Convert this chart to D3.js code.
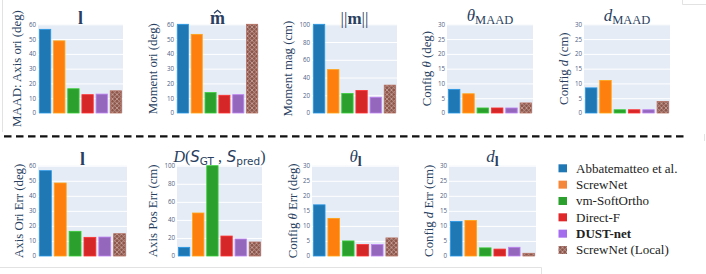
<!DOCTYPE html>
<html><head><meta charset="utf-8">
<script src="https://cdn.jsdelivr.net/npm/d3@7"></script>
<style>body{margin:0;background:#fff}svg{display:block}</style>
</head><body><svg id="c" width="706" height="274"></svg>
<script>
// ---------- data ----------
const methods = ["Abbatematteo et al.", "ScrewNet", "vm-SoftOrtho", "Direct-F", "DUST-net", "ScrewNet (Local)"];
const barColors = ["#1f77b4", "#ff7f0e", "#2ca02c", "#d62728", "#9467bd", "#8c564b"];
const legendColors = ["#1f77b4", "#f5873a", "#2ca02c", "#e0282b", "#a36ded", "#8c564b"];

const axisOriMAAD    = [56.6, 48.8, 16.4, 12.4, 12.8, 15.0];
const momentOriMAAD  = [60.0, 53.2, 13.8, 12.0, 12.4, 60.0];
const momentMagMAAD  = [100, 48.9, 22.0, 25.4, 17.8, 31.4];
const configThMAAD   = [8.0, 6.5, 1.7, 1.7, 1.7, 3.4];
const configDMAAD    = [8.5, 11.0, 1.1, 1.1, 1.1, 3.9];

const axisOriErr     = [56.7, 48.5, 16.4, 12.4, 12.6, 14.8];
const axisPosErr     = [9.6, 47.6, 100, 22.1, 18.8, 15.5];
const configThErr    = [17.0, 12.5, 5.0, 3.8, 3.8, 6.0];
const configDErr     = [11.5, 11.8, 2.7, 2.3, 2.9, 0.9];

const ticks60  = [0, 10, 20, 30, 40, 50, 60];
const ticks100 = [0, 20, 40, 60, 80, 100];
const ticks30  = [0, 5, 10, 15, 20, 25, 30];

// ---------- drawing ----------
const svg = d3.select("#c");
const defs = svg.append("defs");
const pat = defs.append("pattern").attr("id", "hatch")
  .attr("patternUnits", "userSpaceOnUse").attr("width", 4.5).attr("height", 4.5);
pat.append("rect").attr("width", 4.5).attr("height", 4.5).attr("fill", "#8c564b");
pat.append("path").attr("d", "M0,0L4.5,4.5M4.5,0L0,4.5")
  .attr("stroke", "#d2b2aa").attr("stroke-width", 0.7);

const titleColor = "#2a3f5f";
const serif = "'Liberation Serif', 'Times New Roman', serif";

// faint frame artifacts
const frame = svg.append("g").attr("stroke", "#e2e2e2").attr("stroke-width", 1).attr("fill", "none");
frame.append("path").attr("d", "M2.5,0V132");
frame.append("path").attr("d", "M0,267.5H541.5V274");
frame.append("path").attr("d", "M682.5,0V4.5H706");
frame.append("path").attr("d", "M704.5,134V141");

const panels = [
  {vals: axisOriMAAD,   ticks: ticks60,  x0: 38,  x1: 123, y0: 24.3, y1: 113, lx: 21,  title: "l",     ylabel: [["MAAD: Axis ori (deg)", "normal"]]},
  {vals: momentOriMAAD, ticks: ticks60,  x0: 176, x1: 259, y0: 24.3, y1: 113, lx: 157, title: "mhat",  ylabel: [["Moment ori (deg)", "normal"]]},
  {vals: momentMagMAAD, ticks: ticks100, x0: 312, x1: 397, y0: 24.3, y1: 113, lx: 292, title: "normm", ylabel: [["Moment mag (cm)", "normal"]]},
  {vals: configThMAAD,  ticks: ticks30,  x0: 447, x1: 533, y0: 24.3, y1: 113, lx: 431, title: ["θ", "MAAD"], ylabel: [["Config ", "normal"], ["θ", "italic"], [" (deg)", "normal"]]},
  {vals: configDMAAD,   ticks: ticks30,  x0: 584, x1: 670, y0: 24.3, y1: 113, lx: 568, title: ["d", "MAAD"], ylabel: [["Config ", "normal"], ["d", "italic"], [" (cm)", "normal"]]},
  {vals: axisOriErr,    ticks: ticks60,  x0: 38,  x1: 127, y0: 165.7, y1: 256, lx: 23,  title: "l",    ylabel: [["Axis Ori Err (deg)", "normal"]]},
  {vals: axisPosErr,    ticks: ticks100, x0: 177, x1: 262, y0: 165.7, y1: 256, lx: 157, title: "D",    ylabel: [["Axis Pos Err (cm)", "normal"]]},
  {vals: configThErr,   ticks: ticks30,  x0: 312, x1: 399, y0: 165.7, y1: 256, lx: 297, title: ["θ", "l"], ylabel: [["Config ", "normal"], ["θ", "italic"], [" Err (deg)", "normal"]]},
  {vals: configDErr,    ticks: ticks30,  x0: 449, x1: 536, y0: 165.7, y1: 256, lx: 433, title: ["d", "l"], ylabel: [["Config ", "normal"], ["d", "italic"], [" Err (cm)", "normal"]]}
];

panels.forEach(p => {
  const g = svg.append("g");
  const x = d3.scaleBand().domain(methods).range([p.x0, p.x1]).paddingInner(0.2).paddingOuter(0.1);
  const y = d3.scaleLinear().domain([0, p.ticks[p.ticks.length - 1]]).range([p.y1, p.y0]);

  g.append("rect").attr("x", p.x0).attr("y", p.y0).attr("width", p.x1 - p.x0).attr("height", p.y1 - p.y0)
    .attr("fill", "#e5ecf6");

  const ax = d3.axisLeft(y).tickValues(p.ticks).tickSize(-(p.x1 - p.x0)).tickPadding(2).tickFormat(d3.format("d"));
  const ag = g.append("g").attr("transform", `translate(${p.x0},0)`).call(ax);
  ag.select(".domain").remove();
  ag.selectAll(".tick line").attr("stroke", "#ffffff").attr("stroke-width", 1);
  ag.selectAll(".tick text").attr("fill", "#50627f").attr("font-size", 6.2)
    .attr("font-family", "'Open Sans', 'DejaVu Sans', sans-serif");

  g.selectAll("rect.bar").data(p.vals).enter().append("rect").attr("class", "bar")
    .attr("x", (d, i) => x(methods[i]))
    .attr("y", d => y(d))
    .attr("width", x.bandwidth())
    .attr("height", d => y(0) - y(d))
    .attr("fill", (d, i) => i === 5 ? "url(#hatch)" : barColors[i])
    .attr("stroke", (d, i) => d3.color(barColors[i]).brighter(0.7))
    .attr("stroke-width", 0.8);

  // y label
  const cy = (p.y0 + p.y1) / 2;
  const yl = g.append("text").attr("transform", `translate(${p.lx},${cy}) rotate(-90)`)
    .attr("text-anchor", "middle").attr("font-family", serif).attr("font-size", 12.8)
    .attr("fill", titleColor);
  p.ylabel.forEach(([t, st]) => yl.append("tspan").attr("font-style", st).text(t));

  // title
  const cx = (p.x0 + p.x1) / 2;
  const ty = p.y0 - 0.5;
  const t = g.append("text").attr("x", cx).attr("y", ty).attr("text-anchor", "middle")
    .attr("font-family", serif).attr("fill", titleColor);
  if (p.title === "l") {
    t.attr("font-size", 18).attr("font-weight", "bold").text("l");
  } else if (p.title === "mhat") {
    t.attr("font-size", 18).attr("font-weight", "bold").text("m");
    g.append("path").attr("d", `M${cx - 3.5},${ty - 10.5}L${cx},${ty - 13.5}L${cx + 3.5},${ty - 10.5}`)
      .attr("fill", "none").attr("stroke", titleColor).attr("stroke-width", 1.2);
  } else if (p.title === "normm") {
    t.attr("font-size", 17);
    t.append("tspan").text("||");
    t.append("tspan").attr("font-weight", "bold").text("m");
    t.append("tspan").text("||");
  } else if (p.title === "D") {
    t.attr("font-size", 16).attr("y", ty - 3);
    t.append("tspan").attr("font-style", "italic").text("D");
    t.append("tspan").text("(");
    t.append("tspan").attr("font-family", "'DejaVu Sans', sans-serif").attr("font-style", "italic").attr("font-size", 15).text("S");
    t.append("tspan").attr("font-family", "'DejaVu Sans', sans-serif").attr("font-size", 10.5).attr("dy", 3).text("GT");
    t.append("tspan").attr("dy", -3).text(" ,");
    t.append("tspan").attr("font-family", "'DejaVu Sans', sans-serif").attr("font-style", "italic").attr("font-size", 15).text(" S");
    t.append("tspan").attr("font-family", "'DejaVu Sans', sans-serif").attr("font-size", 10.5).attr("dy", 3).text("pred");
    t.append("tspan").attr("dy", -3).text(")");
  } else {
    t.attr("font-size", 17).attr("y", ty - 3);
    t.append("tspan").attr("font-style", "italic").text(p.title[0]);
    t.append("tspan").attr("font-size", p.title[1] === "l" ? 14 : 12.5)
      .attr("font-weight", p.title[1] === "l" ? "bold" : "normal").attr("dy", 3.5).text(p.title[1]);
  }
});

// dashed separator
svg.append("line").attr("x1", 4).attr("x2", 688).attr("y1", 136.3).attr("y2", 136.3)
  .attr("stroke", "#111").attr("stroke-width", 2.2).attr("stroke-dasharray", "7.5,4.5");

// legend
const lg = svg.append("g");
const rowY = d3.scalePoint().domain(methods).range([168.3, 250]);
methods.forEach((m, i) => {
  lg.append("rect").attr("x", 558.5).attr("y", rowY(m) - 4).attr("width", 8.5).attr("height", 8)
    .attr("fill", i === 5 ? "url(#hatch)" : legendColors[i]);
  lg.append("text").attr("x", 576).attr("y", rowY(m) + 4.2)
    .attr("font-family", serif).attr("font-size", 13).attr("fill", "#222")
    .attr("font-weight", m === "DUST-net" ? "bold" : "normal").text(m);
});
</script>
</body></html>
